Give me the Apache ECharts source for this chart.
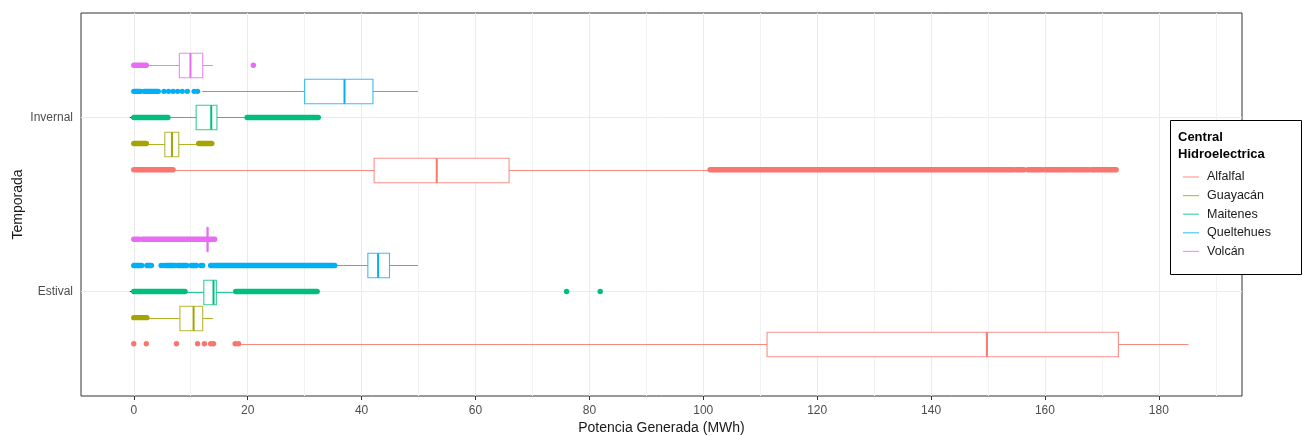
<!DOCTYPE html>
<html><head><meta charset="utf-8">
<script src="https://cdn.jsdelivr.net/npm/echarts@6/dist/echarts.min.js"></script>
<style>html,body{margin:0;padding:0;background:#fff}#c{width:1303px;height:436px}</style>
</head><body><div id="c"></div>
<script>
// ---------------- DATA ----------------
const categories = ['Estival', 'Invernal'];
const centrales = ['Alfalfal', 'Guayacán', 'Maitenes', 'Queltehues', 'Volcán'];
const xTicks = [0, 20, 40, 60, 80, 100, 120, 140, 160, 180];
const xMinorTicks = [10, 30, 50, 70, 90, 110, 130, 150, 170, 190];

// box statistics [lower whisker, q1, median, q3, upper whisker] for [Estival, Invernal]
const boxAlfalfal   = [[18.8, 111.2, 149.8, 172.9, 185.2], [7.1, 42.2, 53.2, 65.9, 101.0]];
const boxGuayacan   = [[2.5, 8.1, 10.5, 12.1, 13.9],       [2.4, 5.45, 6.7, 7.9, 11.1]];
const boxMaitenes   = [[9.3, 12.3, 14.0, 14.5, 17.5],      [6.3, 10.95, 13.6, 14.6, 19.6]];
const boxQueltehues = [[35.6, 41.1, 42.9, 44.9, 49.9],     [12.0, 30.0, 37.0, 42.0, 49.9]];
const boxVolcan     = [[12.85, 12.9, 12.95, 13.0, 13.05],  [2.6, 8.0, 9.95, 12.1, 13.9]];

// dense runs of outliers [from, to] for [Estival, Invernal]
const runsAlfalfal   = [[], [[0, 6.9], [101.2, 152.4], [152.7, 154.4], [154.9, 156.3], [157.0, 159.4], [159.9, 163.2], [163.5, 164.2], [164.6, 167.7], [168.2, 172.5]]];
const runsGuayacan   = [[[0, 2.3]], [[0, 2.2], [11.4, 13.7]]];
const runsMaitenes   = [[[0, 9.0], [17.9, 32.2]], [[0, 6.0], [19.9, 32.4]]];
const runsQueltehues = [[[0, 1.4], [2.3, 3.1], [5.6, 7.2], [7.7, 9.3], [10.1, 11.0], [13.5, 35.3]], [[0, 1.2], [1.8, 4.3]]];
const runsVolcan     = [[[0, 0.9], [1.5, 14.2]], [[0, 2.2]]];

// isolated outliers for [Estival, Invernal]
const ptsAlfalfal   = [[0, 2.2, 7.5, 11.2, 12.4, 13.5, 14.0, 17.8, 18.4], []];
const ptsGuayacan   = [[], []];
const ptsMaitenes   = [[76.0, 81.9], []];
const ptsQueltehues = [[4.8, 5.2, 11.8, 12.1], [5.3, 6.1, 6.9, 7.7, 8.5, 9.4, 10.6, 11.2]];
const ptsVolcan     = [[], [21.0]];

const colors = ['#F8766D', '#A3A500', '#00BF7D', '#00B0F6', '#E76BF3'];

// ---------------- BUILD ----------------
const boxes = [boxAlfalfal, boxGuayacan, boxMaitenes, boxQueltehues, boxVolcan];
const runs = [runsAlfalfal, runsGuayacan, runsMaitenes, runsQueltehues, runsVolcan];
const pts = [ptsAlfalfal, ptsGuayacan, ptsMaitenes, ptsQueltehues, ptsVolcan];

const FONT = '"Liberation Sans", Arial, sans-serif';
const DODGE = 0.15;   // slot of each central within a season (axis units)
const BOXH = 0.14;    // box thickness (axis units)

function yPos(seasonIdx, ci) { return seasonIdx + 1 + (ci - 2) * DODGE; }

const series = [];
centrales.forEach((name, ci) => {
  const col = colors[ci];
  const odata = [];
  for (let s = 0; s < 2; s++) {
    runs[ci][s].forEach(r => odata.push([r[0], r[1], s]));
    pts[ci][s].forEach(v => odata.push([v, v, s]));
  }
  series.push({
    type: 'custom', name, z: 2, xAxisIndex: 0, yAxisIndex: 0,
    itemStyle: { color: col },
    encode: { x: [0, 1], y: 2 },
    silent: true,
    data: odata,
    renderItem: (params, api) => {
      const a = api.value(0), b = api.value(1), s = api.value(2);
      const y = yPos(s, ci);
      const p1 = api.coord([a, y]), p2 = api.coord([b, y]);
      if (a === b) {
        return { type: 'circle', shape: { cx: p1[0], cy: p1[1], r: 2.7 }, style: { fill: col } };
      }
      return { type: 'line', shape: { x1: p1[0], y1: p1[1], x2: p2[0], y2: p2[1] },
               style: { stroke: col, lineWidth: 5.4, lineCap: 'round' } };
    }
  });
  const bdata = boxes[ci].map((b, s) => [b[0], b[1], b[2], b[3], b[4], s]);
  series.push({
    type: 'custom', name, z: 3, xAxisIndex: 0, yAxisIndex: 0,
    itemStyle: { color: col },
    encode: { x: [0, 1, 2, 3, 4], y: 5 },
    silent: true,
    data: bdata,
    renderItem: (params, api) => {
      const s = api.value(5);
      const y = yPos(s, ci);
      const lo = api.coord([api.value(0), y]);
      const q1 = api.coord([api.value(1), y]);
      const md = api.coord([api.value(2), y]);
      const q3 = api.coord([api.value(3), y]);
      const hi = api.coord([api.value(4), y]);
      const h = api.size([0, BOXH])[1];
      const yc = Math.round(lo[1]) + 0.5;
      const lineStyle = { stroke: col, lineWidth: 1, opacity: 0.85 };
      return {
        type: 'group',
        children: [
          { type: 'line', shape: { x1: lo[0], y1: yc, x2: q1[0], y2: yc }, style: lineStyle },
          { type: 'line', shape: { x1: q3[0], y1: yc, x2: hi[0], y2: yc }, style: lineStyle },
          { type: 'rect', shape: { x: q1[0], y: yc - h / 2, width: Math.max(q3[0] - q1[0], 0.5), height: h },
            style: { fill: '#ffffff', stroke: col, lineWidth: 1.1, strokeOpacity: 0.8 } },
          { type: 'line', shape: { x1: md[0], y1: yc - h / 2, x2: md[0], y2: yc + h / 2 },
            style: { stroke: col, lineWidth: 2 } }
        ]
      };
    }
  });
});

const chart = echarts.init(document.getElementById('c'), null, { renderer: 'canvas' });
chart.setOption({
  animation: false,
  backgroundColor: '#ffffff',
  textStyle: { fontFamily: FONT },
  grid: { left: 81, right: 61, top: 13, bottom: 40, show: true, borderColor: '#333333', borderWidth: 1,
          backgroundColor: 'transparent', containLabel: false, outerBoundsMode: 'none' },
  xAxis: [
    {
      type: 'value', min: -9.27, max: 194.6, position: 'bottom',
      axisLine: { show: false },
      axisTick: { show: true, length: 4, lineStyle: { color: '#333333' }, customValues: xTicks },
      axisLabel: { customValues: xTicks, color: '#4d4d4d', fontSize: 12, margin: 9, fontFamily: FONT },
      splitLine: { show: true, lineStyle: { color: '#ebebeb', width: 1 } },
      name: 'Potencia Generada (MWh)', nameLocation: 'middle', nameGap: 25, nameMoveOverlap: false,
      nameTextStyle: { fontSize: 14, color: '#1a1a1a', fontFamily: FONT }
    },
    {
      type: 'value', min: -9.27, max: 194.6, position: 'top',
      axisLine: { show: false },
      axisTick: { show: false, customValues: xMinorTicks },
      axisLabel: { show: false },
      splitLine: { show: true, lineStyle: { color: '#f2f2f2', width: 1 } }
    }
  ],
  yAxis: {
    type: 'value', min: 0.4, max: 2.6,
    axisLine: { show: false },
    axisTick: { show: true, length: 4, lineStyle: { color: '#333333' }, customValues: [1, 2] },
    axisLabel: { customValues: [1, 2], color: '#4d4d4d', fontSize: 12, margin: 8, fontFamily: FONT,
                 formatter: v => categories[Math.round(v) - 1] },
    splitLine: { show: true, lineStyle: { color: '#ebebeb', width: 1 } },
    name: 'Temporada', nameLocation: 'middle', nameGap: 56, nameRotate: 90, nameMoveOverlap: false,
    nameTextStyle: { fontSize: 14, color: '#1a1a1a', fontFamily: FONT }
  },
  legend: {
    orient: 'vertical', left: 1178, top: 165, z: 120,
    itemWidth: 16, itemHeight: 1.2, itemGap: 4.6, icon: 'rect',
    selectedMode: false,
    data: centrales.map((n, i) => ({ name: n, itemStyle: { color: colors[i], opacity: 0.7 } })),
    textStyle: { fontSize: 12.5, color: '#1a1a1a', fontFamily: FONT, lineHeight: 14, padding: [0, 0, 0, 3] }
  },
  graphic: [
    { type: 'rect', left: 1170, top: 120, z: 100, shape: { width: 131, height: 154 },
      style: { fill: '#ffffff', stroke: '#000000', lineWidth: 1 } },
    { type: 'text', left: 1178, top: 129, z: 101,
      style: { text: 'Central\nHidroelectrica', fontSize: 13, fontWeight: 'bold', fill: '#000000', lineHeight: 17, fontFamily: FONT } }
  ],
  series
});
</script>
</body></html>
